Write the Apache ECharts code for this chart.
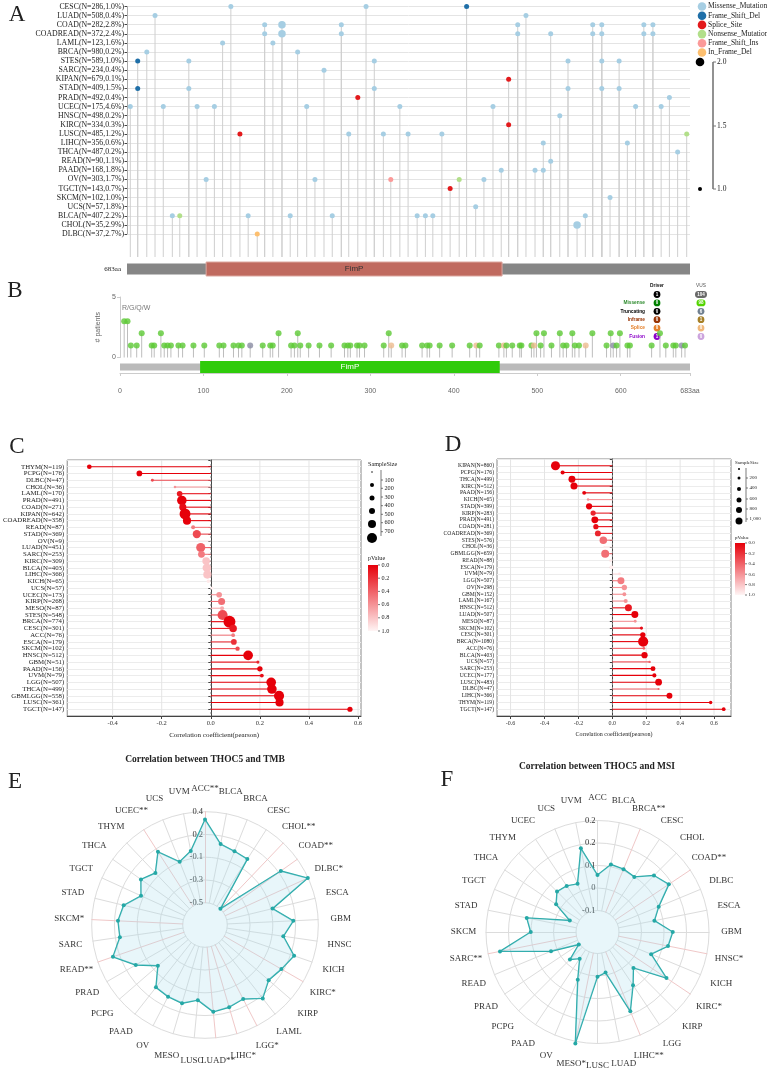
<!DOCTYPE html>
<html>
<head>
<meta charset="utf-8">
<script src="https://cdn.jsdelivr.net/npm/echarts@6/dist/echarts.min.js"></script>
<style>html,body{margin:0;padding:0;background:#fff}#main{width:767px;height:1074px}</style>
</head>
<body>
<div id="main"></div>
<script>
// ========================== 数据 ==========================
// A - 各癌种 THOC5 突变位置
var aRows = ['CESC(N=286,1.0%)', 'LUAD(N=508,0.4%)', 'COAD(N=282,2.8%)', 'COADREAD(N=372,2.4%)', 'LAML(N=123,1.6%)',
  'BRCA(N=980,0.2%)', 'STES(N=589,1.0%)', 'SARC(N=234,0.4%)', 'KIPAN(N=679,0.1%)', 'STAD(N=409,1.5%)',
  'PRAD(N=492,0.4%)', 'UCEC(N=175,4.6%)', 'HNSC(N=498,0.2%)', 'KIRC(N=334,0.3%)', 'LUSC(N=485,1.2%)',
  'LIHC(N=356,0.6%)', 'THCA(N=487,0.2%)', 'READ(N=90,1.1%)', 'PAAD(N=168,1.8%)', 'OV(N=303,1.7%)',
  'TGCT(N=143,0.7%)', 'SKCM(N=102,1.0%)', 'UCS(N=57,1.8%)', 'BLCA(N=407,2.2%)', 'CHOL(N=35,2.9%)', 'DLBC(N=37,2.7%)'];
var mutTypes = ['Missense_Mutation', 'Frame_Shift_Del', 'Splice_Site', 'Nonsense_Mutation', 'Frame_Shift_Ins', 'In_Frame_Del'];
// [位置(aa), 行, 类型, 数量]
var aMutations = [
  [126, 0, 0, 1], [290, 0, 0, 1], [412, 0, 1, 1],
  [34, 1, 0, 1], [484, 1, 0, 1],
  [167, 2, 0, 1], [188, 2, 0, 2], [260, 2, 0, 1], [474, 2, 0, 1], [565, 2, 0, 1], [576, 2, 0, 1], [627, 2, 0, 1], [638, 2, 0, 1],
  [167, 3, 0, 1], [188, 3, 0, 2], [260, 3, 0, 1], [474, 3, 0, 1], [514, 3, 0, 1], [565, 3, 0, 1], [576, 3, 0, 1], [627, 3, 0, 1], [638, 3, 0, 1],
  [116, 4, 0, 1], [177, 4, 0, 1],
  [24, 5, 0, 1], [207, 5, 0, 1],
  [13, 6, 1, 1], [75, 6, 0, 1], [300, 6, 0, 1], [535, 6, 0, 1], [576, 6, 0, 1], [597, 6, 0, 1],
  [239, 7, 0, 1],
  [463, 8, 2, 1],
  [13, 9, 1, 1], [75, 9, 0, 1], [300, 9, 0, 1], [535, 9, 0, 1], [576, 9, 0, 1], [597, 9, 0, 1],
  [280, 10, 2, 1], [658, 10, 0, 1],
  [4, 11, 0, 1], [44, 11, 0, 1], [85, 11, 0, 1], [106, 11, 0, 1], [218, 11, 0, 1], [331, 11, 0, 1], [444, 11, 0, 1], [617, 11, 0, 1], [648, 11, 0, 1],
  [525, 12, 0, 1],
  [463, 13, 2, 1],
  [137, 14, 2, 1], [269, 14, 0, 1], [311, 14, 0, 1], [341, 14, 0, 1], [382, 14, 0, 1], [679, 14, 3, 1],
  [505, 15, 0, 1], [607, 15, 0, 1],
  [668, 16, 0, 1],
  [514, 17, 0, 1],
  [454, 18, 0, 1], [495, 18, 0, 1], [505, 18, 0, 1],
  [96, 19, 0, 1], [228, 19, 0, 1], [320, 19, 4, 1], [403, 19, 3, 1], [433, 19, 0, 1],
  [392, 20, 2, 1],
  [586, 21, 0, 1],
  [423, 22, 0, 1],
  [55, 23, 0, 1], [64, 23, 3, 1], [147, 23, 0, 1], [198, 23, 0, 1], [249, 23, 0, 1], [352, 23, 0, 1], [362, 23, 0, 1], [371, 23, 0, 1], [556, 23, 0, 1],
  [546, 24, 0, 2],
  [158, 25, 5, 1]
];
var proteinLength = 683;
var domainName = 'FimP';
var domainStart = 96;
var domainEnd = 455;

// B - cBioPortal 棒棒糖图 [位置, 病例数, 类型]
var bTypes = ['Missense', 'Truncating', 'Splice'];
var bMutations = [
  [5, 3, 0], [9, 3, 0],
  [26, 2, 0], [49, 2, 0], [190, 2, 0], [213, 2, 0], [322, 2, 0], [499, 2, 0], [508, 2, 0], [527, 2, 0], [542, 2, 0], [566, 2, 0], [588, 2, 0], [599, 2, 0], [647, 2, 0],
  [13, 1, 0], [20, 1, 0], [38, 1, 0], [41, 1, 0], [53, 1, 0], [57, 1, 0], [61, 1, 0], [70, 1, 0], [75, 1, 0], [88, 1, 0], [101, 1, 0],
  [119, 1, 0], [124, 1, 0], [136, 1, 0], [142, 1, 0], [146, 1, 0], [156, 1, 1], [171, 1, 0], [180, 1, 0], [183, 1, 0], [205, 1, 0],
  [209, 1, 0], [216, 1, 0], [226, 1, 0], [239, 1, 0], [253, 1, 0], [269, 1, 0], [273, 1, 0], [276, 1, 0], [284, 1, 0], [287, 1, 0],
  [293, 1, 0], [316, 1, 0], [325, 1, 2], [338, 1, 0], [342, 1, 0], [362, 1, 0], [368, 1, 0], [371, 1, 0], [383, 1, 0], [398, 1, 0],
  [419, 1, 0], [427, 1, 2], [431, 1, 0], [454, 1, 0], [460, 1, 2], [463, 1, 0], [470, 1, 0], [479, 1, 0], [481, 1, 0], [493, 1, 0],
  [496, 1, 2], [504, 1, 0], [517, 1, 0], [531, 1, 0], [535, 1, 0], [545, 1, 0], [550, 1, 0], [558, 1, 2], [583, 1, 0], [591, 1, 1],
  [595, 1, 0], [608, 1, 0], [611, 1, 0], [637, 1, 0], [654, 1, 0], [663, 1, 0], [666, 1, 0], [673, 1, 1], [677, 1, 0]
];
var bHotspot = 'R/G/Q/W';
var bLegendRows = ['', 'Missense', 'Truncating', 'Inframe', 'Splice', 'Fusion'];
var bDriverCounts = ['1', '0', '0', '0', '0', '1'];
var bVusCounts = ['104', '98', '6', '1', '0', '0'];

// C - THOC5 与 TMB 相关
var cNames = ['THYM', 'PCPG', 'DLBC', 'CHOL', 'LAML', 'PRAD', 'COAD', 'KIPAN', 'COADREAD', 'READ', 'STAD', 'OV', 'LUAD',
  'SARC', 'KIRC', 'BLCA', 'LIHC', 'KICH', 'UCS', 'UCEC', 'KIRP', 'MESO', 'STES', 'BRCA', 'CESC', 'ACC', 'ESCA', 'SKCM',
  'HNSC', 'GBM', 'PAAD', 'UVM', 'LGG', 'THCA', 'GBMLGG', 'LUSC', 'TGCT'];
var cN = [119, 176, 47, 36, 170, 491, 271, 642, 358, 87, 369, 9, 451, 253, 309, 403, 366, 65, 57, 173, 268, 87, 548, 774,
  301, 76, 179, 102, 512, 51, 156, 79, 507, 499, 558, 361, 147];
var cR = [-0.495, -0.291, -0.238, -0.146, -0.127, -0.118, -0.114, -0.105, -0.097, -0.072, -0.057, -0.05, -0.041, -0.038,
  -0.019, -0.016, -0.014, -0.01, 0.005, 0.034, 0.044, 0.046, 0.048, 0.076, 0.091, 0.091, 0.094, 0.109, 0.152, 0.192, 0.2,
  0.208, 0.246, 0.249, 0.278, 0.28, 0.567];
var cP = [0, 0, 0.3, 0.6, 0.1, 0, 0.05, 0, 0, 0.5, 0.3, 0.97, 0.4, 0.5, 0.8, 0.8, 0.8, 0.95, 0.98, 0.6, 0.45, 0.7, 0.3, 0,
  0.1, 0.5, 0.2, 0.3, 0, 0.15, 0, 0.05, 0, 0, 0, 0, 0];
var cTicks = [-0.4, -0.2, 0, 0.2, 0.4, 0.6];
var cSizeTicks = ['100', '200', '300', '400', '500', '600', '700'];

// D - THOC5 与 MSI 相关
var dNames = ['KIPAN', 'PCPG', 'THCA', 'KIRC', 'PAAD', 'KICH', 'STAD', 'KIRP', 'PRAD', 'COAD', 'COADREAD', 'STES', 'CHOL',
  'GBMLGG', 'READ', 'ESCA', 'UVM', 'LGG', 'OV', 'GBM', 'LAML', 'HNSC', 'LUAD', 'MESO', 'SKCM', 'CESC', 'BRCA', 'ACC', 'BLCA',
  'UCS', 'SARC', 'UCEC', 'LUSC', 'DLBC', 'LIHC', 'THYM', 'TGCT'];
var dN = [860, 176, 499, 512, 156, 65, 399, 283, 491, 281, 369, 576, 36, 659, 88, 179, 79, 507, 298, 152, 167, 512, 507, 87,
  102, 301, 1080, 76, 403, 57, 253, 177, 483, 47, 366, 119, 147];
var dR = [-0.335, -0.293, -0.238, -0.226, -0.166, -0.143, -0.137, -0.113, -0.103, -0.097, -0.085, -0.053, -0.047, -0.042,
  -0.01, -0.005, 0.042, 0.051, 0.071, 0.071, 0.079, 0.095, 0.133, 0.135, 0.172, 0.18, 0.182, 0.186, 0.19, 0.22, 0.24, 0.248,
  0.273, 0.273, 0.337, 0.58, 0.657];
var dP = [0, 0, 0, 0, 0, 0.6, 0, 0.15, 0, 0.05, 0.15, 0.45, 0.95, 0.45, 0.95, 0.97, 0.9, 0.5, 0.6, 0.6, 0.6, 0.1, 0, 0.6,
  0.05, 0, 0, 0.4, 0, 0.4, 0, 0, 0, 0.4, 0, 0, 0];
var dTicks = [-0.6, -0.4, -0.2, 0, 0.2, 0.4, 0.6];
var dSizeTicks = ['200', '400', '600', '800', '1,000'];
var pTicks = ['0.0', '0.2', '0.4', '0.6', '0.8', '1.0'];

// E - TMB 雷达图
var eNames = ['ACC', 'BLCA', 'BRCA', 'CESC', 'CHOL', 'COAD', 'DLBC', 'ESCA', 'GBM', 'HNSC', 'KICH', 'KIRC', 'KIRP', 'LAML',
  'LGG', 'LIHC', 'LUAD', 'LUSC', 'MESO', 'OV', 'PAAD', 'PCPG', 'PRAD', 'READ', 'SARC', 'SKCM', 'STAD', 'TGCT', 'THCA', 'THYM',
  'UCEC', 'UCS', 'UVM'];
var eSig = ['**', '', '', '', '**', '**', '*', '', '', '', '', '*', '', '', '*', '*', '**', '', '', '', '', '', '', '**', '',
  '*', '', '', '', '', '**', '', ''];
var eVals = [0.323, 0.095, 0.065, 0.054, -0.5, 0.20, 0.397, -0.033, 0.154, 0.062, 0.212, 0.152, 0.112, 0.203, 0.103, 0.127,
  0.142, 0.026, 0.086, 0.077, 0.064, -0.104, 0.07, 0.243, 0.13, 0.141, 0.107, -0.025, 0.057, -0.01, 0.14, -0.047, 0.024];
var eTickLabels = ['-0.5', '-0.3', '-0.1', '0.2', '0.4'];

// F - MSI 雷达图
var fNames = ['ACC', 'BLCA', 'BRCA', 'CESC', 'CHOL', 'COAD', 'DLBC', 'ESCA', 'GBM', 'HNSC', 'KICH', 'KIRC', 'KIRP', 'LGG',
  'LIHC', 'LUAD', 'LUSC', 'MESO', 'OV', 'PAAD', 'PCPG', 'PRAD', 'READ', 'SARC', 'SKCM', 'STAD', 'TGCT', 'THCA', 'THYM', 'UCEC',
  'UCS', 'UVM'];
var fSig = ['', '', '**', '', '', '**', '', '', '', '*', '', '*', '', '', '**', '', '', '*', '', '', '', '', '', '**', '', '',
  '', '', '', '', '', ''];
var fVals = [0.038, 0.084, 0.081, 0.074, 0.127, 0.150, 0.074, 0.042, 0.109, 0.096, 0.042, 0.139, 0.014, 0.065, 0.15, -0.023,
  -0.010, 0.258, 0.017, -0.059, -0.032, -0.096, 0.012, 0.203, 0.076, 0.097, -0.067, 0.010, 0.039, 0.032, 0.019, 0.148];
var fTickLabels = ['-0.1', '0', '0.1', '0.2', '0.2'];

// ========================== 样式工具 ==========================
var serif = 'Liberation Serif';
var sans = 'Liberation Sans';
var typeColors = ['#a6cee3', '#1f6fa8', '#e31a1c', '#b2df8a', '#fb9a99', '#fdbf6f'];
var bTypeColors = ['#5cc934', '#8a8ca3', '#ecbb8e'];
var teal = '#25a8a6';
var radarE = { cx: 205, cy: 925, r0: 22.3, r1: 113.3, labelR: 136 };
var radarF = { cx: 597.5, cy: 932, r0: 21.5, r1: 111.5, labelR: 134 };

function pColor(p) {
  var r = Math.round(230 + 25 * p);
  var g = Math.round(245 * p);
  var b = Math.round(10 + 235 * p);
  return 'rgb(' + r + ',' + g + ',' + b + ')';
}

function txt(x, y, s, size, o) {
  o = o || {};
  return {
    type: 'text', x: x, y: y, silent: true,
    style: {
      text: s, fontSize: size, fontFamily: o.family || serif, fontWeight: o.weight || 'normal',
      fill: o.color || '#222', textAlign: o.align || 'left', textVerticalAlign: o.va || 'middle'
    }
  };
}

var graphics = [];
// 面板字母
[['A', 17, 15], ['B', 15, 291], ['C', 17, 447], ['D', 453, 445], ['E', 15, 782], ['F', 447, 780]].forEach(function (l) {
  graphics.push(txt(l[1], l[2], l[0], 23, { align: 'center' }));
});

// ========================== A 图例 ==========================
mutTypes.forEach(function (t, i) {
  var y = 6.5 + i * 9.2;
  graphics.push({ type: 'circle', silent: true, shape: { cx: 702, cy: y, r: 4.3 }, style: { fill: typeColors[i] } });
  graphics.push(txt(708, y, t, 7.5));
});
graphics.push({ type: 'circle', silent: true, shape: { cx: 700, cy: 62, r: 4.3 }, style: { fill: '#000' } });
graphics.push({ type: 'circle', silent: true, shape: { cx: 700, cy: 189, r: 2 }, style: { fill: '#000' } });
graphics.push({ type: 'line', silent: true, shape: { x1: 713, y1: 62, x2: 713, y2: 189 }, style: { stroke: '#777', lineWidth: 1.6 } });
[['2.0', 62], ['1.5', 126], ['1.0', 189]].forEach(function (t) {
  graphics.push({ type: 'line', silent: true, shape: { x1: 713, y1: t[1], x2: 716, y2: t[1] }, style: { stroke: '#777', lineWidth: 1 } });
  graphics.push(txt(717, t[1], t[0], 7.5));
});
graphics.push(txt(121, 269, '683aa', 7, { align: 'right' }));

// ========================== B 图例 ==========================
graphics.push(txt(657, 286, 'Driver', 4.8, { align: 'center', weight: 'bold', family: sans, color: '#111' }));
graphics.push(txt(701, 286, 'VUS', 4.8, { align: 'center', family: sans, color: '#555' }));
var bRowColors = ['#000', '#2e8b2e', '#000', '#993404', '#e5802b', '#8b00c9'];
var bDriverColors = ['#000', '#008000', '#000', '#993404', '#e5802b', '#8b00c9'];
var bVusColors = ['#696969', '#53d400', '#708090', '#a68028', '#f0b87b', '#cca3dd'];
bLegendRows.forEach(function (name, i) {
  var y = 294.5 + i * 8.4;
  if (name) graphics.push(txt(645, y, name, 4.8, { align: 'right', weight: 'bold', family: sans, color: bRowColors[i] }));
  graphics.push({ type: 'circle', silent: true, shape: { cx: 657, cy: y, r: 3.4 }, style: { fill: bDriverColors[i] } });
  graphics.push(txt(657, y, bDriverCounts[i], 4.5, { align: 'center', family: sans, color: '#fff', weight: 'bold' }));
  var w = Math.max(6.8, bVusCounts[i].length * 3 + 3);
  graphics.push({ type: 'rect', silent: true, shape: { x: 701 - w / 2, y: y - 3.4, width: w, height: 6.8, r: 3.4 }, style: { fill: bVusColors[i] } });
  graphics.push(txt(701, y, bVusCounts[i], 4.5, { align: 'center', family: sans, color: '#fff', weight: 'bold' }));
});

// ========================== C/D 图例 ==========================
function corrLegend(x0, yTitle, dotY, dotD, bx, by0, by1, sizeLabels, labelYs, pTitleY, gy0, gy1, fs) {
  graphics.push(txt(x0 - 2, yTitle, 'SampleSize', fs, { color: '#222' }));
  dotY.forEach(function (y, i) {
    graphics.push({ type: 'circle', silent: true, shape: { cx: x0 + 2, cy: y, r: dotD[i] / 2 }, style: { fill: '#000' } });
  });
  graphics.push({ type: 'line', silent: true, shape: { x1: bx, y1: by0, x2: bx, y2: by1 }, style: { stroke: '#444', lineWidth: 0.7 } });
  sizeLabels.forEach(function (s, i) {
    graphics.push({ type: 'line', silent: true, shape: { x1: bx, y1: labelYs[i], x2: bx + 2, y2: labelYs[i] }, style: { stroke: '#444', lineWidth: 0.7 } });
    graphics.push(txt(bx + 3.5, labelYs[i], s, fs));
  });
  graphics.push(txt(x0 - 2, pTitleY, 'pValue', fs));
  graphics.push({
    type: 'rect', silent: true, shape: { x: x0 - 2, y: gy0, width: 10, height: gy1 - gy0 },
    style: { fill: new echarts.graphic.LinearGradient(0, 0, 0, 1, [{ offset: 0, color: pColor(0) }, { offset: 1, color: pColor(1) }]) }
  });
  pTicks.forEach(function (s, i) {
    var y = gy0 + (gy1 - gy0) * i / (pTicks.length - 1);
    graphics.push({ type: 'line', silent: true, shape: { x1: x0 + 8, y1: y, x2: x0 + 10, y2: y }, style: { stroke: '#444', lineWidth: 0.7 } });
    graphics.push(txt(x0 + 11.5, y, s, fs));
  });
}
corrLegend(370, 464, [472, 485, 498, 511, 524, 538], [1.5, 4, 5, 6, 8, 10], 381, 470, 536, cSizeTicks,
  [480, 488.3, 497, 505.7, 514.3, 522.7, 531.7], 558, 565, 631, 6.2);
corrLegend(737, 463, [469, 478, 489, 500, 510, 521], [2, 3, 4, 5, 6, 7], 746, 468, 522, dSizeTicks,
  [478, 488, 499, 509, 519], 538, 543, 595, 5);

// 标题
graphics.push(txt(205, 760, 'Correlation between THOC5 and TMB', 9.5, { align: 'center', weight: 'bold' }));
graphics.push(txt(597, 767, 'Correlation between THOC5 and MSI', 9.5, { align: 'center', weight: 'bold' }));

// 雷达外圈的癌种名称(顺时针, 居中放置)
function radarNames(cfg, names, sig) {
  var n = names.length;
  names.forEach(function (name, i) {
    var a = i * 2 * Math.PI / n;
    graphics.push(txt(cfg.cx + cfg.labelR * Math.sin(a), cfg.cy - cfg.labelR * Math.cos(a), name + sig[i], 9,
      { align: 'center', color: '#333' }));
  });
}
radarNames(radarE, eNames, eSig);
radarNames(radarF, fNames, fSig);

// ========================== 图形系列 ==========================
function stemA(params, api) {
  var p = api.coord([api.value(0), api.value(1)]);
  var cs = params.coordSys;
  return { type: 'line', silent: true, shape: { x1: p[0], y1: p[1], x2: p[0], y2: cs.y + cs.height + 23 }, style: { stroke: '#cfcfcf', lineWidth: 1 } };
}
function stemB(params, api) {
  var p = api.coord([api.value(0), api.value(1)]);
  var o = api.coord([api.value(0), 0]);
  return { type: 'line', silent: true, shape: { x1: p[0], y1: p[1], x2: o[0], y2: o[1] }, style: { stroke: '#bdbdbd', lineWidth: 1 } };
}
function proteinBar(fullColor, domColor, domStroke, textColor, inset) {
  return function (params, api) {
    var s = api.coord([api.value(0), 0]);
    var e = api.coord([api.value(1), 0]);
    var cs = params.coordSys;
    if (api.value(2) === 0) {
      return { type: 'rect', silent: true, shape: { x: s[0], y: cs.y + inset, width: e[0] - s[0], height: cs.height - 2 * inset }, style: { fill: fullColor } };
    }
    return {
      type: 'group', children: [
        { type: 'rect', silent: true, shape: { x: s[0], y: cs.y, width: e[0] - s[0], height: cs.height }, style: { fill: domColor, stroke: domStroke, lineWidth: 1 } },
        { type: 'text', silent: true, style: { text: domainName, x: (s[0] + e[0]) / 2, y: cs.y + cs.height / 2, fontSize: 8, fontFamily: sans, fill: textColor, textAlign: 'center', textVerticalAlign: 'middle' } }
      ]
    };
  };
}
function corrStem(params, api) {
  var a = api.coord([0, api.value(1)]);
  var b = api.coord([api.value(0), api.value(1)]);
  return { type: 'line', silent: true, shape: { x1: a[0], y1: a[1], x2: b[0], y2: b[1] }, style: { stroke: pColor(api.value(2)), lineWidth: 1.1 } };
}
function vGrid(params, api) {
  var v = api.value(0);
  var x = api.coord([v, 0])[0];
  var cs = params.coordSys;
  return {
    type: 'line', silent: true, shape: { x1: x, y1: cs.y, x2: x, y2: cs.y + cs.height },
    style: { stroke: v === 0 ? '#9a9a9a' : '#e4e4e4', lineWidth: v === 0 ? 0.8 : 1, lineDash: v === 0 ? [2, 2] : null }
  };
}
function corrData(r, n, p) {
  return r.map(function (v, i) { return [v, i, p[i], n[i]]; });
}
function rowLabel(names, n) {
  return function (v) {
    var i = Math.round(v);
    return (i >= 0 && i < names.length) ? names[i] + '(N=' + n[i] + ')' : '';
  };
}

var cData = corrData(cR, cN, cP);
var dData = corrData(dR, dN, dP);

// 雷达: ECharts 逆时针排列, 调整顺序以得到顺时针
function clockwise(arr) { return [arr[0]].concat(arr.slice(1).reverse()); }
function radarIndicators(names, sig, min, max, tickLabels) {
  var list = names.map(function (n, i) {
    var ind = { name: n + sig[i], min: min, max: max };
    if (sig[i]) ind.axisLine = { lineStyle: { color: '#f0c8c8' } };
    return ind;
  });
  list[0].axisLabel = {
    show: true, fontFamily: serif, fontSize: 8.5, color: '#333', margin: 2,
    formatter: function (v, idx) { return tickLabels[idx]; }
  };
  return clockwise(list);
}
function radarComp(cfg, names, sig, min, max, ticks) {
  return {
    center: [cfg.cx, cfg.cy], radius: [cfg.r0, cfg.r1], startAngle: 90, splitNumber: 4, shape: 'circle',
    indicator: radarIndicators(names, sig, min, max, ticks),
    axisName: { show: false },
    splitLine: { lineStyle: { color: '#dcdcdc' } }, splitArea: { show: false },
    axisLine: { lineStyle: { color: '#dcdcdc' } }, axisTick: { show: false }, axisLabel: { show: false }
  };
}
function radarSeries(idx, vals) {
  return {
    type: 'radar', radarIndex: idx, symbol: 'circle', symbolSize: 4, silent: true,
    lineStyle: { color: teal, width: 1.4 }, itemStyle: { color: teal },
    areaStyle: { color: 'rgba(173,222,236,0.4)' },
    data: [{ value: clockwise(vals) }]
  };
}

var option = {
  animation: false,
  backgroundColor: '#fff',
  grid: [
    { left: 127, right: 77, top: 6.5, height: 227.5 },
    { left: 127, right: 77, top: 262, height: 14 },
    { left: 120, right: 77, top: 297, height: 60.5 },
    { left: 120, right: 77, top: 361, height: 12 },
    { left: 67, right: 406, top: 460, height: 256, show: true, borderColor: '#888', borderWidth: 1 },
    { left: 497, right: 36, top: 459, height: 257, show: true, borderColor: '#888', borderWidth: 1 }
  ],
  xAxis: [
    { gridIndex: 0, type: 'value', min: 0, max: proteinLength, show: false },
    { gridIndex: 1, type: 'value', min: 0, max: proteinLength, show: false },
    { gridIndex: 2, type: 'value', min: 0, max: proteinLength, show: false },
    {
      gridIndex: 3, type: 'value', min: 0, max: proteinLength, interval: 100, offset: 12,
      axisLine: { show: true, lineStyle: { color: '#ccc' } },
      axisTick: { show: true, length: 3, lineStyle: { color: '#ccc' } },
      axisLabel: { fontSize: 7, fontFamily: sans, color: '#666', margin: 2.5, formatter: function (v) { return v === proteinLength ? proteinLength + 'aa' : v; } },
      splitLine: { show: false }
    },
    {
      gridIndex: 4, type: 'value', min: -0.585, max: 0.612,
      name: 'Correlation coefficient(pearson)', nameLocation: 'middle', nameGap: 16,
      nameTextStyle: { fontFamily: serif, fontSize: 7, color: '#222' },
      axisLine: { show: true, onZero: false, lineStyle: { color: '#444' } },
      axisTick: { show: true, length: 3, customValues: cTicks, lineStyle: { color: '#444' } },
      axisLabel: { customValues: cTicks, fontFamily: serif, fontSize: 6.5, color: '#333', margin: 4, formatter: function (v) { return v.toFixed(1); } },
      splitLine: { show: false }
    },
    {
      gridIndex: 5, type: 'value', min: -0.68, max: 0.70,
      name: 'Correlation coefficient(pearson)', nameLocation: 'middle', nameGap: 15,
      nameTextStyle: { fontFamily: serif, fontSize: 6, color: '#222' },
      axisLine: { show: true, onZero: false, lineStyle: { color: '#444' } },
      axisTick: { show: true, length: 3, customValues: dTicks, lineStyle: { color: '#444' } },
      axisLabel: { customValues: dTicks, fontFamily: serif, fontSize: 6, color: '#333', margin: 4, formatter: function (v) { return v.toFixed(1); } },
      splitLine: { show: false }
    }
  ],
  yAxis: [
    {
      gridIndex: 0, type: 'category', data: aRows, inverse: true, boundaryGap: false,
      axisLine: { show: true, lineStyle: { color: '#aaa' } },
      axisTick: { show: true, length: 2.5, lineStyle: { color: '#444' } },
      axisLabel: { interval: 0, fontFamily: serif, fontSize: 7.8, color: '#222', margin: 3 },
      splitLine: { show: true, lineStyle: { color: '#e4e4e4' } }
    },
    { gridIndex: 1, type: 'value', min: 0, max: 1, show: false },
    {
      gridIndex: 2, type: 'value', min: 0, max: 5, interval: 5,
      name: '# patients', nameLocation: 'middle', nameGap: 12, nameRotate: 90,
      nameTextStyle: { fontSize: 7, fontFamily: sans, color: '#666' },
      axisLine: { show: true, lineStyle: { color: '#ccc' } },
      axisTick: { show: true, length: 3, lineStyle: { color: '#ccc' } },
      axisLabel: { fontSize: 7, fontFamily: sans, color: '#666', margin: 4 },
      splitLine: { show: false }
    },
    { gridIndex: 3, type: 'value', min: 0, max: 1, show: false },
    {
      gridIndex: 4, type: 'value', inverse: true, min: -1, max: cNames.length, interval: 1,
      axisLine: { show: true, lineStyle: { color: '#444' } },
      axisTick: { show: true, length: 2.5, lineStyle: { color: '#444' } },
      axisLabel: { fontFamily: serif, fontSize: 6.8, color: '#222', margin: 3, formatter: rowLabel(cNames, cN) },
      splitLine: { show: true, lineStyle: { color: '#ececec' } }
    },
    {
      gridIndex: 5, type: 'value', inverse: true, min: -1, max: dNames.length, interval: 1,
      axisLine: { show: true, lineStyle: { color: '#444' } },
      axisTick: { show: true, length: 2.5, lineStyle: { color: '#444' } },
      axisLabel: { fontFamily: serif, fontSize: 5.6, color: '#222', margin: 3, formatter: rowLabel(dNames, dN) },
      splitLine: { show: true, lineStyle: { color: '#ececec' } }
    }
  ],
  radar: [
    radarComp(radarE, eNames, eSig, -0.5, 0.4, eTickLabels),
    radarComp(radarF, fNames, fSig, -0.1, 0.25, fTickLabels)
  ],
  series: [
    // A
    { type: 'custom', xAxisIndex: 0, yAxisIndex: 0, renderItem: stemA, data: aMutations, encode: { x: 0, y: 1 }, z: 1, silent: true },
    {
      type: 'scatter', xAxisIndex: 0, yAxisIndex: 0, data: aMutations, encode: { x: 0, y: 1 }, z: 3, silent: true,
      symbolSize: function (v) { return v[3] > 1 ? 7.5 : 5; },
      itemStyle: { color: function (p) { return typeColors[p.value[2]]; }, opacity: 1 }
    },
    {
      type: 'custom', xAxisIndex: 1, yAxisIndex: 1, silent: true,
      renderItem: proteinBar('#868686', '#c06a5f', '#dca79f', '#333', 1.5),
      data: [[0, proteinLength, 0], [domainStart, domainEnd, 1]]
    },
    // B
    { type: 'custom', xAxisIndex: 2, yAxisIndex: 2, renderItem: stemB, data: bMutations, encode: { x: 0, y: 1 }, z: 1, silent: true },
    {
      type: 'scatter', xAxisIndex: 2, yAxisIndex: 2, z: 3, silent: true, symbolSize: 6,
      data: bMutations.map(function (m, i) {
        var item = { value: m, itemStyle: { color: bTypeColors[m[2]] } };
        if (i === 0) item.label = { show: true, position: 'top', formatter: bHotspot, fontSize: 7, fontFamily: sans, color: '#555', offset: [12, -2] };
        return item;
      })
    },
    {
      type: 'custom', xAxisIndex: 3, yAxisIndex: 3, silent: true,
      renderItem: proteinBar('#bababa', '#2fcb0b', null, '#fff', 2.5),
      data: [[0, proteinLength, 0], [domainStart, domainEnd, 1]]
    },
    // C
    { type: 'custom', xAxisIndex: 4, yAxisIndex: 4, renderItem: vGrid, data: cTicks.map(function (v) { return [v]; }), z: 1, silent: true },
    { type: 'custom', xAxisIndex: 4, yAxisIndex: 4, renderItem: corrStem, data: cData, encode: { x: 0, y: 1 }, z: 2, silent: true },
    {
      type: 'scatter', xAxisIndex: 4, yAxisIndex: 4, data: cData, encode: { x: 0, y: 1 }, z: 3, silent: true,
      symbolSize: function (v) { return 0.43 * Math.sqrt(v[3]); },
      itemStyle: { color: function (p) { return pColor(p.value[2]); }, opacity: 1 }
    },
    // D
    { type: 'custom', xAxisIndex: 5, yAxisIndex: 5, renderItem: vGrid, data: dTicks.map(function (v) { return [v]; }), z: 1, silent: true },
    { type: 'custom', xAxisIndex: 5, yAxisIndex: 5, renderItem: corrStem, data: dData, encode: { x: 0, y: 1 }, z: 2, silent: true },
    {
      type: 'scatter', xAxisIndex: 5, yAxisIndex: 5, data: dData, encode: { x: 0, y: 1 }, z: 3, silent: true,
      symbolSize: function (v) { return 0.31 * Math.sqrt(v[3]); },
      itemStyle: { color: function (p) { return pColor(p.value[2]); }, opacity: 1 }
    },
    // E / F
    radarSeries(0, eVals),
    radarSeries(1, fVals)
  ],
  graphic: graphics
};

var myChart = echarts.init(document.getElementById('main'));
myChart.setOption(option);
window.addEventListener('resize', function () {
  myChart.resize();
});
</script>
</body>
</html>
